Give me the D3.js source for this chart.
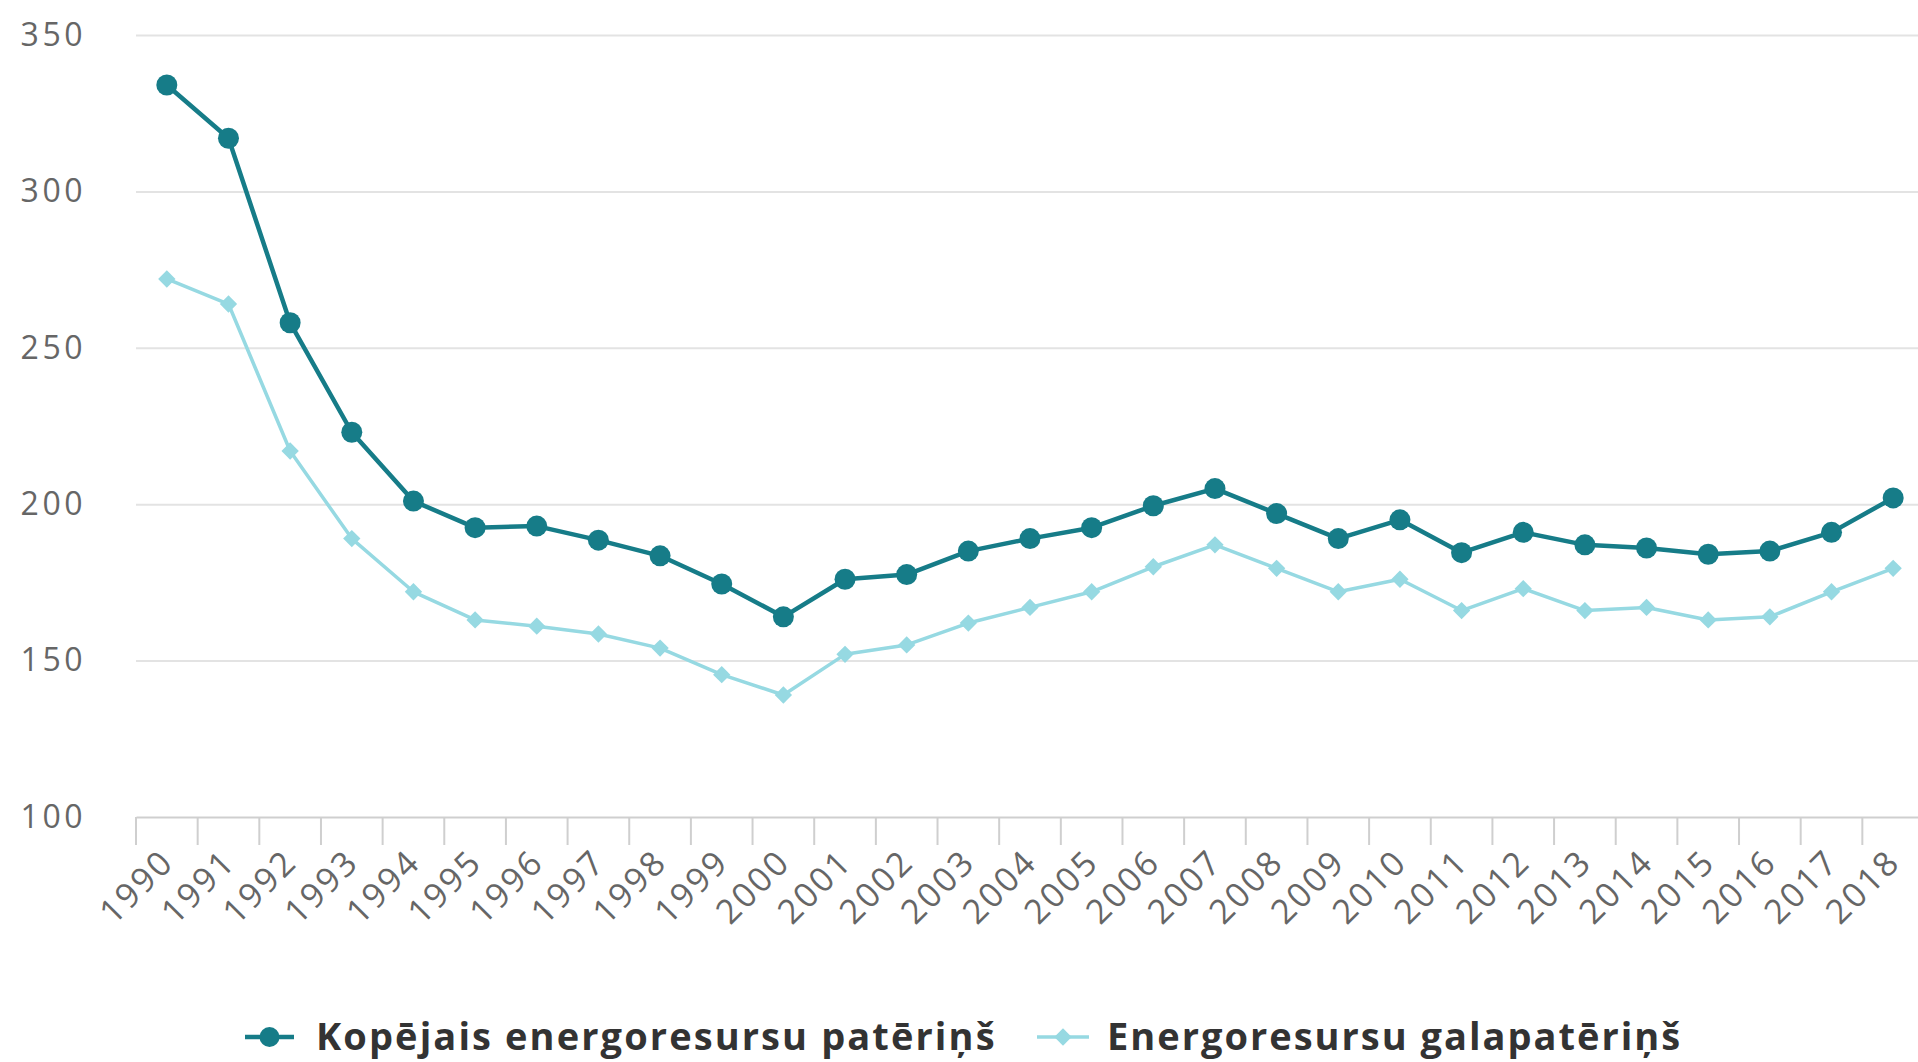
<!DOCTYPE html>
<html>
<head>
<meta charset="utf-8">
<script src="https://cdn.jsdelivr.net/npm/d3@7"></script>
<style>
  html, body { margin: 0; padding: 0; background: #ffffff; overflow: hidden; }
  svg { display: block; }
  text { font-family: "Open Sans", "DejaVu Sans", sans-serif; }
</style>
</head>
<body>
<svg id="chart" width="1918" height="1062"></svg>
<script>
const years = ["1990","1991","1992","1993","1994","1995","1996","1997","1998","1999","2000","2001","2002","2003","2004","2005","2006","2007","2008","2009","2010","2011","2012","2013","2014","2015","2016","2017","2018"];
const totalConsumption = [334, 317, 258, 223, 201, 192.5, 193, 188.5, 183.5, 174.5, 164, 176, 177.5, 185, 189, 192.5, 199.5, 205, 197, 189, 195, 184.5, 191, 187, 186, 184, 185, 191, 202];
const finalConsumption = [272, 264, 217, 189, 172, 163, 161, 158.5, 154, 145.5, 139, 152, 155, 162, 167, 172, 180, 187, 179.5, 172, 176, 166, 173, 166, 167, 163, 164, 172, 179.5];
const yTicks = [100, 150, 200, 250, 300, 350];
const seriesNames = ["Kopējais energoresursu patēriņš", "Energoresursu galapatēriņš"];
const seriesColors = ["#167c88", "#96d9e2"];

const svg = d3.select("#chart");
const plotLeft = 136, plotRight = 1924, plotTop = 35, plotBottom = 817;

const x = d3.scaleBand().domain(years).range([plotLeft, plotRight]).padding(0);
const y = d3.scaleLinear().domain([100, 350]).range([plotBottom, plotTop]);

// gridlines + y labels
const yAxis = d3.axisLeft(y).tickValues(yTicks).tickSize(-(plotRight - plotLeft)).tickFormat(d3.format("d"));
const gy = svg.append("g").attr("transform", `translate(${plotLeft},0)`).call(yAxis);
gy.select(".domain").remove();
gy.selectAll(".tick line").attr("stroke", "#e3e3e3").attr("stroke-width", 2);
gy.selectAll(".tick text")
  .attr("x", -50)
  .attr("fill", "#666")
  .attr("font-size", 32)
  .attr("letter-spacing", 3.5)
  .attr("text-anchor", "end");
gy.selectAll(".tick").filter(d => d === 100).select("line").remove();

// x axis
const xAxis = d3.axisBottom(x).tickSize(0).tickPadding(0);
const gx = svg.append("g").attr("transform", `translate(0,${plotBottom})`).call(xAxis);
gx.select(".domain").attr("stroke", "#cfcfcf").attr("stroke-width", 2);
gx.selectAll(".tick text")
  .attr("fill", "#666")
  .attr("font-size", 34)
  .attr("letter-spacing", 2.5)
  .attr("text-anchor", "end")
  .attr("y", 0)
  .attr("dy", 0)
  .attr("transform", "translate(9,47) rotate(-45)");
// tick marks at category boundaries
gx.selectAll(".boundary")
  .data(years)
  .join("line")
  .attr("class", "boundary")
  .attr("x1", d => x(d)).attr("x2", d => x(d))
  .attr("y1", 0).attr("y2", 28)
  .attr("stroke", "#cfcfcf").attr("stroke-width", 2);

const cx = d => x(d) + x.bandwidth() / 2;

// light series
const lineGen = d3.line().x((d, i) => cx(years[i])).y(d => y(d));
svg.append("path").datum(finalConsumption)
  .attr("d", lineGen).attr("fill", "none")
  .attr("stroke", seriesColors[1]).attr("stroke-width", 3.5).attr("stroke-linejoin", "round");
const diamond = d3.symbol().type(d3.symbolSquare).size(150);
svg.append("g").selectAll("path").data(finalConsumption).join("path")
  .attr("d", diamond)
  .attr("transform", (d, i) => `translate(${cx(years[i])},${y(d)}) rotate(45)`)
  .attr("fill", seriesColors[1]);

// dark series
svg.append("path").datum(totalConsumption)
  .attr("d", lineGen).attr("fill", "none")
  .attr("stroke", seriesColors[0]).attr("stroke-width", 4.5).attr("stroke-linejoin", "round");
svg.append("g").selectAll("circle").data(totalConsumption).join("circle")
  .attr("cx", (d, i) => cx(years[i])).attr("cy", d => y(d))
  .attr("r", 10.5).attr("fill", seriesColors[0]);

// legend
const legendY = 1037;
const lg1 = svg.append("g");
lg1.append("line").attr("x1", 245).attr("x2", 294).attr("y1", legendY).attr("y2", legendY)
  .attr("stroke", seriesColors[0]).attr("stroke-width", 4.5);
lg1.append("circle").attr("cx", 269.5).attr("cy", legendY).attr("r", 10).attr("fill", seriesColors[0]);
lg1.append("text").attr("x", 316).attr("y", legendY).attr("dy", "0.35em")
  .attr("font-size", 38).attr("font-weight", "bold").attr("fill", "#333")
  .attr("letter-spacing", 2.1)
  .text(seriesNames[0]);

const lg2 = svg.append("g");
lg2.append("line").attr("x1", 1037).attr("x2", 1089).attr("y1", legendY).attr("y2", legendY)
  .attr("stroke", seriesColors[1]).attr("stroke-width", 3.5);
lg2.append("path").attr("d", diamond).attr("transform", `translate(1063,${legendY}) rotate(45)`).attr("fill", seriesColors[1]);
lg2.append("text").attr("x", 1107).attr("y", legendY).attr("dy", "0.35em")
  .attr("font-size", 38).attr("font-weight", "bold").attr("fill", "#333")
  .attr("letter-spacing", 2.0)
  .text(seriesNames[1]);
</script>
</body>
</html>
